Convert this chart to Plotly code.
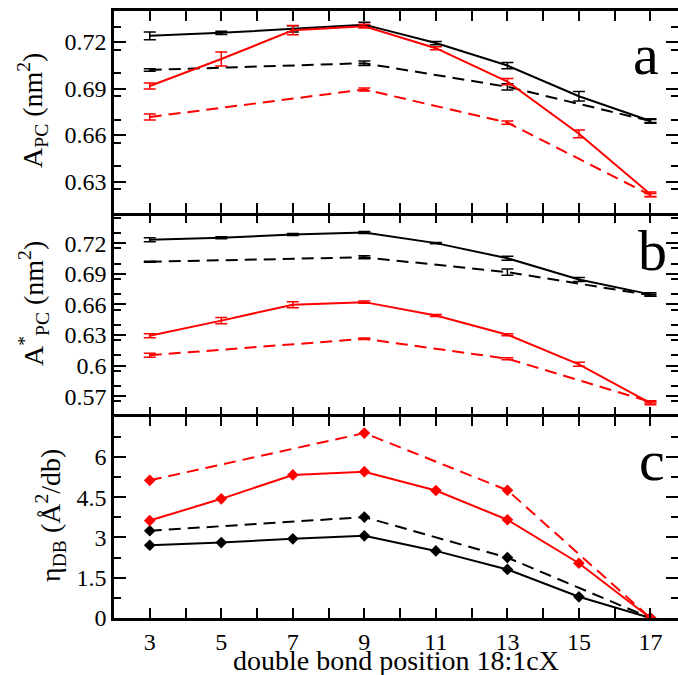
import plotly.graph_objects as go

# ---------------- data ----------------
x_full = [3, 5, 7, 9, 11, 13, 15, 17]
x_part = [3, 9, 13, 17]

# panel a: A_PC (nm^2)
a_black_solid = [0.7240, 0.7259, 0.7285, 0.7312, 0.7193, 0.7048, 0.6850, 0.6690]
a_black_solid_err = [0.0025, 0.0010, 0.0020, 0.0015, 0.0010, 0.0020, 0.0030, 0.0015]
a_black_dash = [0.7020, 0.7063, 0.6911, 0.6690]
a_black_dash_err = [0.0008, 0.0015, 0.0020, 0.0010]
a_red_solid = [0.6916, 0.7090, 0.7276, 0.7302, 0.7160, 0.6944, 0.6608, 0.6218]
a_red_solid_err = [0.0020, 0.0045, 0.0030, 0.0012, 0.0010, 0.0020, 0.0025, 0.0015]
a_red_dash = [0.6716, 0.6894, 0.6680, 0.6212]
a_red_dash_err = [0.0020, 0.0010, 0.0010, 0.0010]

# panel b: A*_PC (nm^2)
b_black_solid = [0.7233, 0.7252, 0.7285, 0.7305, 0.7200, 0.7052, 0.6844, 0.6698]
b_black_solid_err = [0.0020, 0.0010, 0.0010, 0.0010, 0.0005, 0.0020, 0.0020, 0.0015]
b_black_dash = [0.7018, 0.7061, 0.6916, 0.6690]
b_black_dash_err = [0.0005, 0.0015, 0.0030, 0.0010]
b_red_solid = [0.6293, 0.6441, 0.6597, 0.6622, 0.6491, 0.6303, 0.6013, 0.5633]
b_red_solid_err = [0.0020, 0.0030, 0.0030, 0.0010, 0.0010, 0.0010, 0.0020, 0.0015]
b_red_dash = [0.6102, 0.6263, 0.6068, 0.5645]
b_red_dash_err = [0.0020, 0.0008, 0.0010, 0.0010]

# panel c: eta_DB (A^2/db)
c_black_solid = [2.71, 2.81, 2.95, 3.06, 2.50, 1.81, 0.79, 0.0]
c_black_dash = [3.25, 3.76, 2.25, 0.0]
c_red_solid = [3.63, 4.44, 5.33, 5.45, 4.75, 3.66, 2.04, 0.0]
c_red_dash = [5.13, 6.89, 4.76, 0.0]

x_tickvals = [3, 5, 7, 9, 11, 13, 15, 17]
x_ticktext = ["3", "5", "7", "9", "11", "13", "15", "17"]
ya_ticks = [0.63, 0.66, 0.69, 0.72]
yb_ticks = [0.57, 0.6, 0.63, 0.66, 0.69, 0.72]
yc_ticks = [0, 1.5, 3, 4.5, 6]
ya_ticktext = ["0.63", "0.66", "0.69", "0.72"]
yb_ticktext = ["0.57", "0.6", "0.63", "0.66", "0.69", "0.72"]
yc_ticktext = ["0", "1.5", "3", "4.5", "6"]

panel_letters = ["a", "b", "c"]
y_titles = ["A<sub>PC</sub> (nm<sup>2</sup>)",
            "A<sup>*</sup><sub>PC</sub> (nm<sup>2</sup>)",
            "η<sub>DB</sub> (Å<sup>2</sup>/db)"]
x_title = "double bond position 18:1cX"

# ---------------- style ----------------
FONT = "Liberation Serif"
RED = "#ff0000"
BLK = "#000000"
DASH = "12px,7px"
LW = 2

fig = go.Figure()

def err_line(x, y, e, color, dash, xa, ya):
    fig.add_trace(go.Scatter(
        x=x, y=y, mode="lines", xaxis=xa, yaxis=ya,
        line=dict(color=color, width=LW, dash=dash),
        error_y=dict(type="data", array=e, visible=True, color=color,
                     thickness=1.5, width=6),
        showlegend=False, hoverinfo="skip"))

def mk_line(x, y, color, dash, xa, ya):
    fig.add_trace(go.Scatter(
        x=x, y=y, mode="lines+markers", xaxis=xa, yaxis=ya,
        line=dict(color=color, width=LW, dash=dash),
        marker=dict(symbol="diamond", size=9, color=color),
        showlegend=False, hoverinfo="skip"))

# panel a (top)
err_line(x_part, a_black_dash, a_black_dash_err, BLK, DASH, "x3", "y3")
err_line(x_part, a_red_dash, a_red_dash_err, RED, DASH, "x3", "y3")
err_line(x_full, a_black_solid, a_black_solid_err, BLK, "solid", "x3", "y3")
err_line(x_full, a_red_solid, a_red_solid_err, RED, "solid", "x3", "y3")
# panel b (middle)
err_line(x_part, b_black_dash, b_black_dash_err, BLK, DASH, "x2", "y2")
err_line(x_part, b_red_dash, b_red_dash_err, RED, DASH, "x2", "y2")
err_line(x_full, b_black_solid, b_black_solid_err, BLK, "solid", "x2", "y2")
err_line(x_full, b_red_solid, b_red_solid_err, RED, "solid", "x2", "y2")
# panel c (bottom)
mk_line(x_part, c_black_dash, BLK, DASH, "x", "y")
mk_line(x_part, c_red_dash, RED, DASH, "x", "y")
mk_line(x_full, c_black_solid, BLK, "solid", "x", "y")
mk_line(x_full, c_red_solid, RED, "solid", "x", "y")

W, H = 678, 675
ML, MR, MT, MB = 114, 0, 11, 57
plot_h = H - MT - MB
d_c = (618 - 416.7) / plot_h
d_b = (618 - 212.5) / plot_h
XR = [2, 17.77]

tickfont = dict(family=FONT, size=24, color="black")

def xax(anchor, labels, line):
    d = dict(range=XR, domain=[0, 1], anchor=anchor, automargin=False,
             tickmode="array", tickvals=x_tickvals, ticktext=x_ticktext,
             showticklabels=labels,
             ticks="inside", ticklen=10, tickwidth=1.5, tickcolor="black",
             minor=dict(dtick=1, tick0=2, ticks="inside", ticklen=10, tickwidth=1.5,
                        tickcolor="black", showgrid=False),
             showline=line, linewidth=2.5, linecolor="black", mirror="ticks",
             showgrid=False, zeroline=False, tickfont=tickfont)
    if anchor != "y":
        d["matches"] = "x"
    return d

def yax(anchor, domain, rng, minor_d, vals, texts):
    return dict(domain=domain, range=rng, anchor=anchor, automargin=False,
                tickmode="array", tickvals=vals, ticktext=texts,
                ticks="inside", ticklen=12, tickwidth=1.5, tickcolor="black",
                minor=dict(dtick=minor_d, tick0=rng[0], ticks="inside", ticklen=7,
                           tickwidth=1.5, tickcolor="black", showgrid=False),
                showline=True, linewidth=2.5, linecolor="black", mirror="ticks",
                showgrid=False, zeroline=False, tickfont=tickfont)

fig.update_layout(
    width=W, height=H,
    margin=dict(l=ML, r=MR, t=MT, b=MB),
    paper_bgcolor="white", plot_bgcolor="white",
    font=dict(family=FONT, color="black"),
    xaxis=xax("y", True, True),
    xaxis2=xax("y2", False, False),
    xaxis3=xax("y3", False, True),
    yaxis=yax("x", [0, d_c], [0, 7.5], 0.75, yc_ticks, yc_ticktext),
    yaxis2=yax("x2", [d_c, d_b], [0.55, 0.75], 0.015, yb_ticks, yb_ticktext),
    yaxis3=yax("x3", [d_b, 1], [0.61, 0.74], 0.015, ya_ticks, ya_ticktext),
)

# y-axis titles (paper coords relative to plot area)
pw = W - ML - MR
def px_to_xp(px):
    return (px - ML) / pw
def py_to_yp(py):
    return (H - MB - py) / plot_h

title_pos = [(33, 110), (33, 303), (50, 516)]
for t, (px, py) in zip(y_titles, title_pos):
    fig.add_annotation(text=t, x=px_to_xp(px), y=py_to_yp(py), xref="paper", yref="paper",
                       textangle=-90, showarrow=False, xanchor="center", yanchor="middle",
                       font=dict(family=FONT, size=28, color="black"))

fig.add_annotation(text=x_title, x=px_to_xp(396), y=py_to_yp(660), xref="paper", yref="paper",
                   showarrow=False, xanchor="center", yanchor="middle",
                   font=dict(family=FONT, size=28, color="black"))

letter_pos = [(646, 55), (652, 250), (652, 460)]
for t, (px, py) in zip(panel_letters, letter_pos):
    fig.add_annotation(text=t, x=px_to_xp(px), y=py_to_yp(py), xref="paper", yref="paper",
                       showarrow=False, xanchor="center", yanchor="middle",
                       font=dict(family=FONT, size=58, color="black"))

fig.write_html("out.html")
